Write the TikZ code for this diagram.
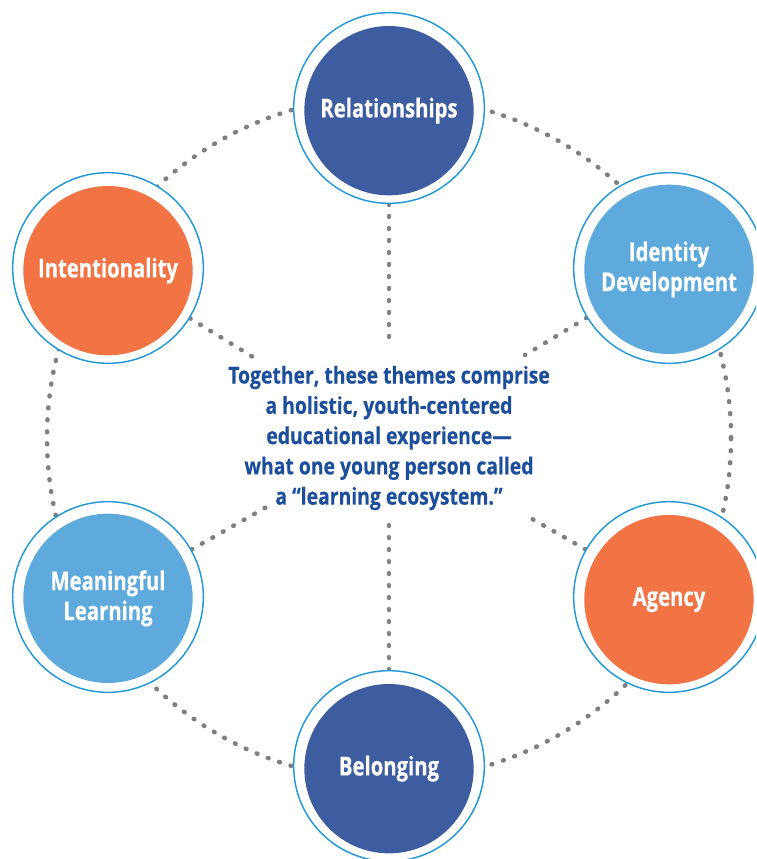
\documentclass[tikz,border=0pt]{standalone}
\usepackage{fontspec}
\newfontfamily\condf{Open Sans Bold}[FakeStretch=0.78, FakeBold=0.4]
\newfontfamily\msgf{Open Sans Bold}[FakeStretch=0.83, FakeBold=0.4]
\usetikzlibrary{backgrounds}

\definecolor{darkb}{HTML}{3D5DA0}
\definecolor{lightb}{HTML}{5EAADD}
\definecolor{orng}{HTML}{F27445}
\definecolor{ringb}{HTML}{2499DA}
\definecolor{navy}{HTML}{1C4E9B}
\definecolor{dotg}{HTML}{7F7F80}

\tikzset{
  ring/.style={circle, draw=ringb, line width=1.1pt, fill=white, minimum size=143pt, inner sep=0pt},
  theme/.style={circle, fill=#1, text=white, minimum size=127pt, inner sep=0pt, align=center,
    font=\condf\fontsize{19.5}{22.5}\selectfont},
  dots/.style={dotg, line width=3.4pt, line cap=round, dash pattern=on 0.6pt off 8.4pt}
}

\begin{document}
\begin{tikzpicture}[x=0.75pt,y=-0.75pt]
  \clip (0,0) rectangle (756,859);
  \useasboundingbox (0,0) rectangle (756,859);
  \coordinate (ctr) at (389,438);

  \node [ring] (relr) at (389,108) {};
  \node [ring] (idr)  at (669,268) {};
  \node [ring] (agr)  at (669,597) {};
  \node [ring] (belr) at (389,766) {};
  \node [ring] (mlr)  at (108,597) {};
  \node [ring] (intr) at (108,268) {};

  \node [theme=darkb]  (rel) at ([yshift=-2]relr) {Relationships};
  \node [theme=lightb] (id)  at ([yshift=-1]idr)  {Identity\\Development};
  \node [theme=orng]   (ag)  at ([yshift=-2]agr)  {Agency};
  \node [theme=darkb]  (bel) at ([yshift=-2]belr) {Belonging};
  \node [theme=lightb] (ml)  at ([yshift=-1]mlr)  {Meaningful\\Learning};
  \node [theme=orng]   (int) at ([yshift=-2]intr) {Intentionality};

  \node [text=navy, align=center, font=\msgf\fontsize{17.5}{22.7}\selectfont]
    (msg) at (ctr) {Together, these themes comprise\\a holistic, youth-centered\\educational experience—\\what one young person called\\a “learning ecosystem.”};

  \coordinate (relend) at (389,347);
  \coordinate (idend)  at (525,355);
  \coordinate (agend)  at (527,516);
  \coordinate (belend) at (389,525);
  \coordinate (mlend)  at (270,505);
  \coordinate (intend) at (253,357);

  \begin{pgfonlayer}{background}
    \draw [dots] (ctr) circle (256.5pt);
    \path [dots]
    (relr) edge (relend)
    (idr)  edge (idend)
    (agr)  edge (agend)
    (belr) edge (belend)
    (mlr)  edge (mlend)
    (intr) edge (intend);
  \end{pgfonlayer}
\end{tikzpicture}
\end{document}
